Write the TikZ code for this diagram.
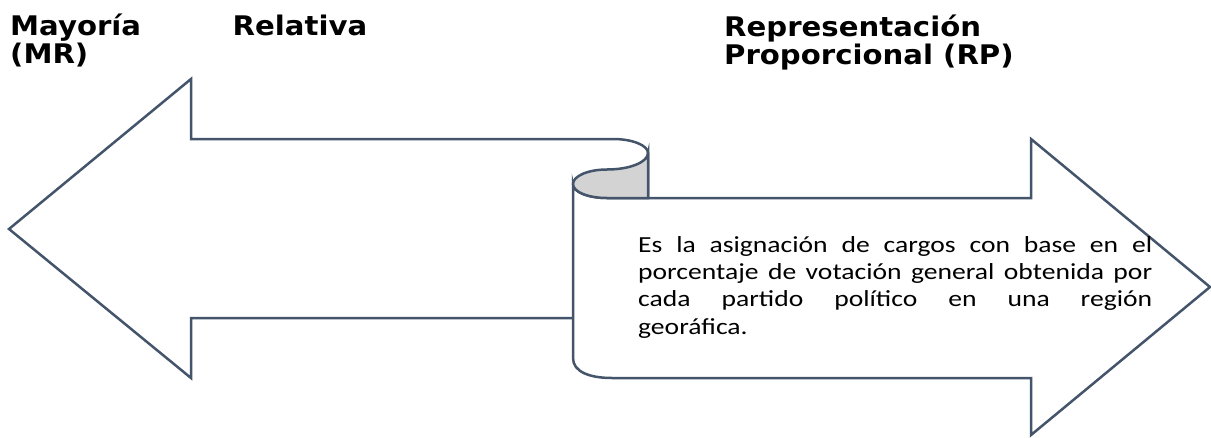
\documentclass[tikz,border=0pt]{standalone}
\usepackage{fontspec}
\setmainfont{Carlito}
\newfontfamily\titlefont[FakeStretch=1.08]{DejaVu Sans}
\newfontfamily\bodyfont[FakeStretch=1.2]{Carlito}
\definecolor{edge}{RGB}{68,84,106}
\definecolor{curl}{RGB}{211,211,211}
\newcommand{\jline}[2]{\leavevmode\hbox to #1{\spaceskip=\fontdimen2\font plus 1fill\relax #2}}
\begin{document}
\begin{tikzpicture}[x=1pt,y=-1pt,
  shapeline/.style={draw=edge,line width=2.5pt,line join=miter,fill=white},
  curlshade/.style={draw=edge,line width=2.5pt,fill=curl},
  titletext/.style={font=\titlefont\bfseries\fontsize{27}{28.5}\selectfont,inner sep=0pt,text=black},
  bodytext/.style={font=\bodyfont\fontsize{23}{27.3}\selectfont,inner sep=0pt,text=black,align=left,text width=514pt}]
\useasboundingbox (0,0) rectangle (1211,437);
% left arrow (Mayoria Relativa)
\path[shapeline] (9,229) -- (191,79) -- (191,139) -- (613,139)
  .. controls (632.3,139) and (648,145.3) .. (648,153)
  -- (648,318) -- (191,318) -- (191,378) -- cycle;
% scroll body with right arrow (Representacion Proporcional)
\path[shapeline] (573,184) -- (573,358)
  .. controls (573,372) and (590,378) .. (612,378)
  -- (1031,378) -- (1031,435) -- (1210,287) -- (1031,139) -- (1031,198)
  -- (607,198) .. controls (588.2,198) and (573,192) .. (573,184) -- cycle;
% curled top of the scroll
\path[curlshade] (648,153) .. controls (648,162) and (630,169.5) .. (607,169.5)
  .. controls (588.2,169.5) and (573,176) .. (573,184)
  .. controls (573,192) and (588.2,198) .. (607,198)
  -- (648,198) -- cycle;
% titles
\node[titletext,anchor=base west,align=left] (mr) at (10,63.5)
  {\jline{357pt}{Mayoría Relativa}\\(MR)};
\node[titletext,anchor=base west,align=left] (rp) at (724,64.5)
  {Representación\\Proporcional (RP)};
% body text
\node[bodytext,anchor=north west] (def) at (638,236)
  {\jline{514pt}{Es la asignación de cargos con base en el}\\
   \jline{514pt}{porcentaje de votación general obtenida por}\\
   \jline{514pt}{cada partido político en una región}\\
   georáfica.};
\end{tikzpicture}
\end{document}
